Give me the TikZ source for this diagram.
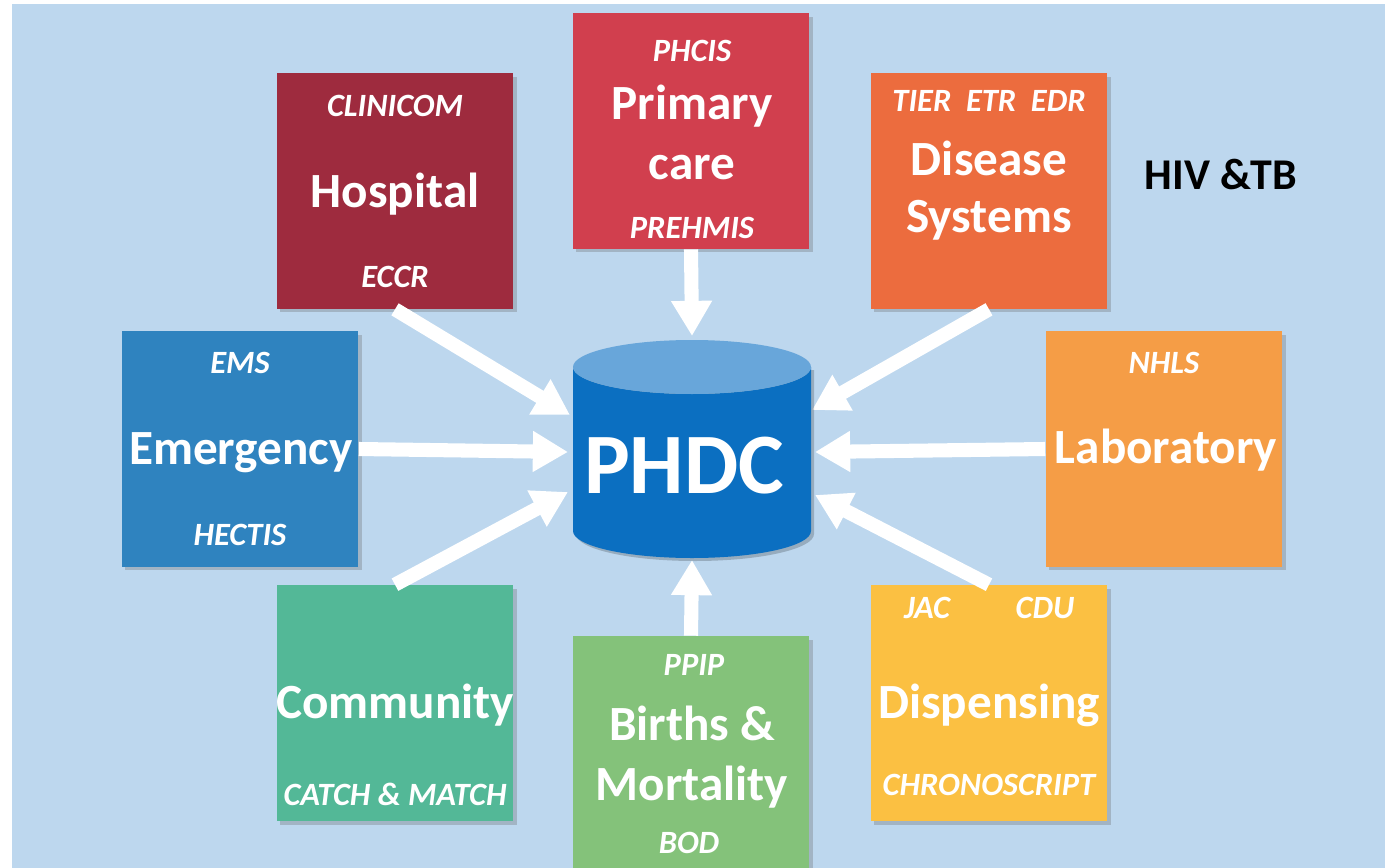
\documentclass[tikz,border=0pt]{standalone}
\usepackage{fontspec}
\setmainfont{Carlito}
\usetikzlibrary{arrows.meta,calc,shadows}

\definecolor{bgblue}{HTML}{BDD7EE}
\definecolor{hospred}{HTML}{9E2B3E}
\definecolor{primred}{HTML}{D13F4E}
\definecolor{disorange}{HTML}{EC6C3E}
\definecolor{emsblue}{HTML}{2F83BF}
\definecolor{laborange}{HTML}{F59D46}
\definecolor{commgreen}{HTML}{53B897}
\definecolor{birthgreen}{HTML}{84C27A}
\definecolor{dispyellow}{HTML}{FBC042}
\definecolor{dbbody}{HTML}{0B6FC1}
\definecolor{dbtop}{HTML}{68A6DA}

\begin{document}
\begin{tikzpicture}[x=0.02cm, y=-0.02cm,
  tile/.style={minimum width=4.74cm, minimum height=4.72cm, inner sep=0pt,
    drop shadow={shadow xshift=2pt, shadow yshift=-2pt, opacity=.3, fill=black!60}},
  big/.style={text=white, anchor=base, inner sep=0pt, font=\bfseries\fontsize{28}{30}\selectfont},
  tag/.style={text=white, anchor=base, inner sep=0pt, font=\bfseries\itshape\fontsize{18.5}{20}\selectfont},
  flow/.style={draw=white, line width=8pt, -{Triangle[length=20pt,width=22pt]}}]
\useasboundingbox (0,0) rectangle (1385,868);
\clip (0,0) rectangle (1385,868);
\fill[bgblue] (12,4) rectangle (1385,868);

% boxes
\node[tile, fill=hospred]    (hosp)  at (395,191)  {};
\node[tile, fill=primred]    (prim)  at (691,131)  {};
\node[tile, fill=disorange]  (dis)   at (989,191)  {};
\node[tile, fill=emsblue]    (ems)   at (240,449)  {};
\node[tile, fill=laborange]  (lab)   at (1164,449) {};
\node[tile, fill=commgreen]  (comm)  at (395,703)  {};
\node[tile, fill=birthgreen] (birth) at (691,754)  {};
\node[tile, fill=dispyellow] (disp)  at (989,703)  {};

% centre
\node[minimum width=4.76cm, minimum height=4.3cm] (db) at (692,449) {};

% arrows
\draw[flow] (hosp.south)  -- ($(db.center)+(-122,-34)$);
\draw[flow] (prim.south)  -- ($(db.center)+(0,-113)$);
\draw[flow] (dis.south)   -- ($(db.center)+(120,-39)$);
\draw[flow] (ems.east)    -- ($(db.center)+(-124,3)$);
\draw[flow] (lab.west)    -- ($(db.center)+(123,3)$);
\draw[flow] (comm.north)  -- ($(db.center)+(-124,43)$);
\draw[flow] (birth.north) -- ($(db.center)+(0,111)$);
\draw[flow] (disp.north)  -- ($(db.center)+(123,46)$);

% cylinder
\fill[black, opacity=.2] (576,370) -- (576,534)
  arc[start angle=180, end angle=0, x radius=119, y radius=27] -- (814,370) -- cycle;
\fill[dbbody] (573,367) -- (573,531)
  arc[start angle=180, end angle=0, x radius=119, y radius=27] -- (811,367)
  arc[start angle=0, end angle=180, x radius=119, y radius=27] -- cycle;
\fill[dbtop] (692,367) ellipse[x radius=119, y radius=27];
\node[text=white, anchor=base, inner sep=0pt, font=\bfseries\fontsize{49}{52}\selectfont]
  (dbname) at (684,493) {PHDC};

% Hospital
\node[tag] (hosp1) at (395,117) {CLINICOM};
\node[big] (hosp2) at (395,208) {Hospital};
\node[tag] (hosp3) at (395,287) {ECCR};

% Primary care
\node[tag] (prim1) at (692,62)  {PHCIS};
\node[big] (prim2) at (692,120) {Primary};
\node[big] (prim3) at (692,180) {care};
\node[tag] (prim4) at (692,238) {PREHMIS};

% Disease systems
\node[tag] (dis1) at (989,112) {TIER\ \ ETR\ \ EDR};
\node[big] (dis2) at (989,175) {Disease};
\node[big] (dis3) at (989,233) {Systems};
\node[font=\bfseries\fontsize{25}{28}\selectfont, anchor=base, inner sep=0pt]
  (hivtb) at (1221,190) {HIV \&TB};

% Emergency
\node[tag] (ems1) at (240,373) {EMS};
\node[big] (ems2) at (241,464) {Emergency};
\node[tag] (ems3) at (240,545) {HECTIS};

% Laboratory
\node[tag] (lab1) at (1164,373) {NHLS};
\node[big] (lab2) at (1166,463) {Laboratory};

% Community
\node[big] (comm1) at (395,718) {Community};
\node[tag] (comm2) at (395,805) {CATCH \& MATCH};

% Births & Mortality
\node[tag] (birth1) at (694,675) {PPIP};
\node[big] (birth2) at (692,740) {Births \&};
\node[big] (birth3) at (692,800) {Mortality};
\node[tag] (birth4) at (689,853) {BOD};

% Dispensing
\node[tag] (disp1) at (927,618)  {JAC};
\node[tag] (disp2) at (1045,618) {CDU};
\node[big] (disp3) at (989,718)  {Dispensing};
\node[tag] (disp4) at (989,795)  {CHRONOSCRIPT};
\end{tikzpicture}
\end{document}
